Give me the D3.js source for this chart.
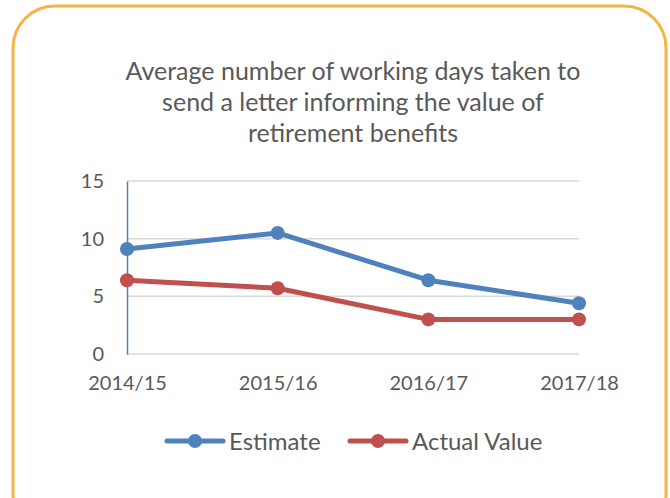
<!DOCTYPE html>
<html>
<head>
<meta charset="utf-8">
<script src="https://cdn.jsdelivr.net/npm/d3@7.9.0/dist/d3.min.js"></script>
<style>
  body { margin: 0; background: #fff; }
  svg text { font-family: Lato, "Open Sans", sans-serif; fill: #595959; }
</style>
</head>
<body>
<svg id="chart" width="670" height="498"></svg>
<script>
const years = ['2014/15', '2015/16', '2016/17', '2017/18'];
const estimate = [9.1, 10.5, 6.4, 4.4];
const actual = [6.4, 5.7, 3.0, 3.0];
const yTicks = [0, 5, 10, 15];
const titleLines = [
  'Average number of working days taken to',
  'send a letter informing the value of',
  'retirement benefits'
];

const series = [
  { name: 'Estimate', values: estimate, color: '#4F81BD' },
  { name: 'Actual Value', values: actual, color: '#C0504D' }
];

const svg = d3.select('#chart');

// card border
svg.append('rect')
  .attr('x', 13).attr('y', 6)
  .attr('width', 653).attr('height', 530)
  .attr('rx', 42)
  .attr('fill', '#fff')
  .attr('stroke', '#F6B443')
  .attr('stroke-width', 3);

// title
titleLines.forEach((t, i) => {
  svg.append('text')
    .attr('x', 353).attr('y', 80 + i * 31)
    .attr('text-anchor', 'middle')
    .style('font-size', '25px')
    .text(t);
});

const x = d3.scalePoint().domain(years).range([127, 579]);
const y = d3.scaleLinear().domain([0, 15]).range([354, 181]);

// gridlines
svg.append('g')
  .selectAll('line')
  .data(yTicks)
  .join('line')
  .attr('x1', 127).attr('x2', 579)
  .attr('y1', d => y(d)).attr('y2', d => y(d))
  .attr('stroke', '#D9D9D9')
  .attr('stroke-width', 1.5);

// y axis
const yAxis = svg.append('g')
  .attr('transform', 'translate(127,0)')
  .call(d3.axisLeft(y).tickValues(yTicks).tickSize(0).tickPadding(23));
yAxis.select('.domain').attr('stroke', '#4F81BD').attr('stroke-width', 1.5);
yAxis.selectAll('text').style('font-size', '20px').attr('fill', '#595959');

// x axis labels
const xAxis = svg.append('g')
  .attr('transform', 'translate(0,354)')
  .call(d3.axisBottom(x).tickSize(0).tickPadding(22));
xAxis.select('.domain').remove();
xAxis.selectAll('text').style('font-size', '20px').attr('fill', '#595959');

// lines + markers
const line = d3.line()
  .x((d, i) => x(years[i]))
  .y(d => y(d));

series.forEach(s => {
  svg.append('path')
    .attr('d', line(s.values))
    .attr('fill', 'none')
    .attr('stroke', s.color)
    .attr('stroke-width', 5)
    .attr('stroke-linejoin', 'round')
    .attr('stroke-linecap', 'round');
  svg.append('g')
    .selectAll('circle')
    .data(s.values)
    .join('circle')
    .attr('cx', (d, i) => x(years[i]))
    .attr('cy', d => y(d))
    .attr('r', 7)
    .attr('fill', s.color);
});

// legend
const legendX = [167, 350];
series.forEach((s, i) => {
  const g = svg.append('g').attr('transform', `translate(${legendX[i]},441)`);
  g.append('line')
    .attr('x1', 0).attr('x2', 56)
    .attr('stroke', s.color)
    .attr('stroke-width', 5)
    .attr('stroke-linecap', 'round');
  g.append('circle').attr('cx', 28).attr('r', 7).attr('fill', s.color);
  g.append('text')
    .attr('x', 62).attr('y', 9)
    .style('font-size', '24px')
    .text(s.name);
});
</script>
</body>
</html>
